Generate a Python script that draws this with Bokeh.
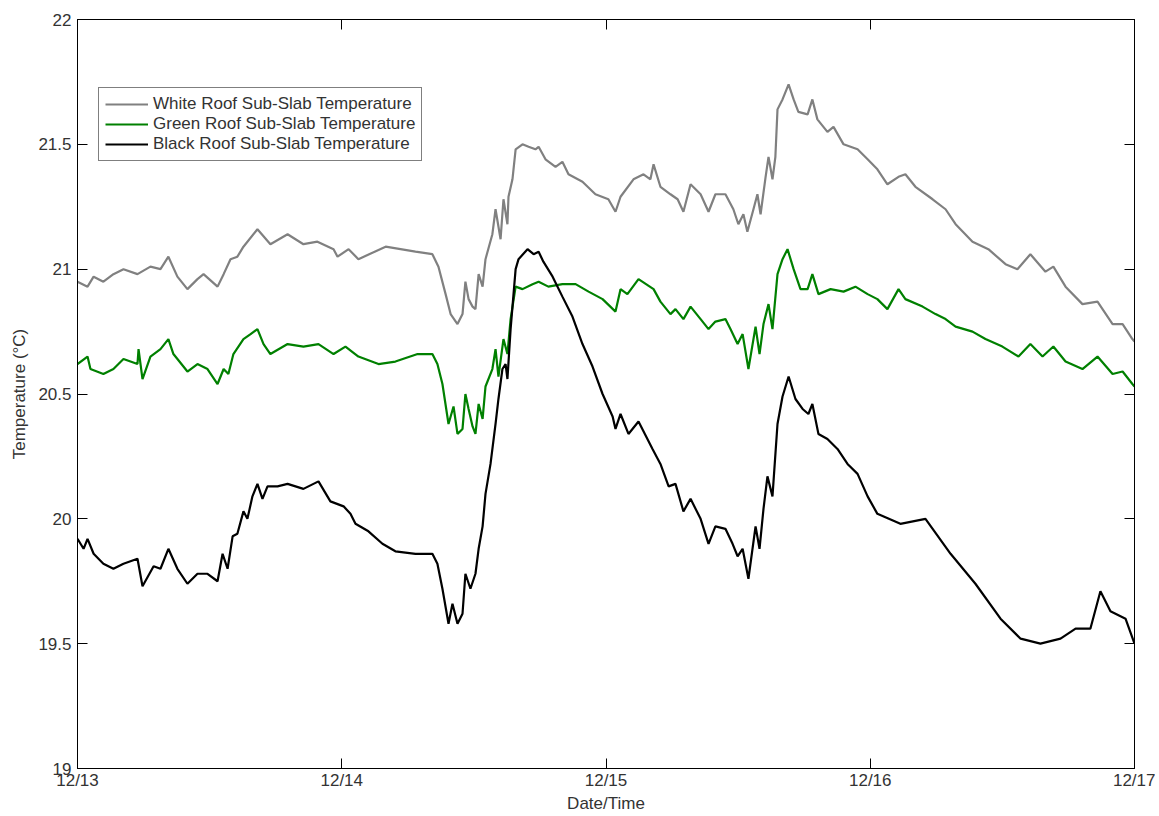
from bokeh.plotting import figure
from bokeh.models import (Range1d, LinearAxis, FixedTicker, CustomJSTickFormatter,
                          Legend, LegendItem, ColumnDataSource)
from bokeh.embed import file_html
from bokeh.resources import INLINE

# ---- data (days since 12/13 00:00, temperature in deg C) ----
white_day = [0.000, 0.038, 0.061, 0.098, 0.136, 0.174, 0.227, 0.276, 0.314, 0.344,
             0.378, 0.416, 0.454, 0.477, 0.530, 0.553, 0.579, 0.605, 0.628, 0.681,
             0.730, 0.795, 0.855, 0.908, 0.969, 0.984, 1.026, 1.063, 1.166, 1.279,
             1.343, 1.366, 1.393, 1.412, 1.438, 1.457, 1.468, 1.480, 1.495, 1.506,
             1.518, 1.533, 1.544, 1.570, 1.582, 1.601, 1.612, 1.627, 1.631, 1.646,
             1.658, 1.684, 1.707, 1.733, 1.745, 1.771, 1.809, 1.835, 1.858, 1.911,
             1.960, 2.009, 2.036, 2.055, 2.104, 2.142, 2.168, 2.180, 2.206, 2.244,
             2.271, 2.293, 2.320, 2.358, 2.388, 2.414, 2.452, 2.482, 2.501, 2.520,
             2.535, 2.558, 2.573, 2.585, 2.604, 2.615, 2.630, 2.641, 2.649, 2.668,
             2.691, 2.710, 2.728, 2.763, 2.781, 2.800, 2.838, 2.861, 2.899, 2.952,
             2.990, 3.027, 3.065, 3.107, 3.133, 3.171, 3.236, 3.285, 3.323, 3.387,
             3.447, 3.512, 3.557, 3.606, 3.663, 3.693, 3.739, 3.803, 3.860, 3.917,
             3.955, 3.992, 4.000]
white_temp = [20.95, 20.93, 20.97, 20.95, 20.98, 21.00, 20.98, 21.01, 21.00, 21.05,
              20.97, 20.92, 20.96, 20.98, 20.93, 20.98, 21.04, 21.05, 21.09, 21.16,
              21.10, 21.14, 21.10, 21.11, 21.08, 21.05, 21.08, 21.04, 21.09, 21.07,
              21.06, 21.01, 20.90, 20.82, 20.78, 20.82, 20.95, 20.88, 20.85, 20.84,
              20.98, 20.93, 21.04, 21.14, 21.24, 21.12, 21.28, 21.18, 21.29, 21.36,
              21.48, 21.50, 21.49, 21.48, 21.49, 21.44, 21.41, 21.43, 21.38, 21.35,
              21.30, 21.28, 21.23, 21.29, 21.36, 21.38, 21.36, 21.42, 21.33, 21.30,
              21.28, 21.23, 21.34, 21.30, 21.23, 21.30, 21.30, 21.24, 21.18, 21.22,
              21.15, 21.24, 21.30, 21.22, 21.37, 21.45, 21.36, 21.45, 21.64, 21.68,
              21.74, 21.68, 21.63, 21.62, 21.68, 21.60, 21.55, 21.57, 21.50, 21.48,
              21.44, 21.40, 21.34, 21.37, 21.38, 21.33, 21.28, 21.24, 21.18, 21.11,
              21.08, 21.02, 21.00, 21.06, 20.99, 21.01, 20.93, 20.86, 20.87, 20.78,
              20.78, 20.72, 20.71]

green_day = [0.000, 0.038, 0.049, 0.098, 0.136, 0.174, 0.227, 0.231, 0.246, 0.276,
             0.314, 0.344, 0.363, 0.416, 0.454, 0.492, 0.530, 0.553, 0.571, 0.590,
             0.628, 0.655, 0.681, 0.704, 0.730, 0.795, 0.855, 0.912, 0.969, 1.014,
             1.063, 1.139, 1.203, 1.287, 1.343, 1.362, 1.381, 1.404, 1.423, 1.438,
             1.457, 1.468, 1.480, 1.495, 1.506, 1.518, 1.533, 1.544, 1.570, 1.582,
             1.593, 1.612, 1.627, 1.639, 1.658, 1.684, 1.722, 1.745, 1.782, 1.835,
             1.885, 1.934, 1.987, 2.036, 2.055, 2.081, 2.123, 2.180, 2.206, 2.244,
             2.263, 2.293, 2.320, 2.358, 2.388, 2.414, 2.452, 2.471, 2.498, 2.517,
             2.539, 2.566, 2.581, 2.596, 2.615, 2.630, 2.649, 2.668, 2.687, 2.710,
             2.736, 2.763, 2.781, 2.804, 2.850, 2.899, 2.944, 2.990, 3.027, 3.065,
             3.107, 3.133, 3.198, 3.247, 3.285, 3.323, 3.387, 3.436, 3.500, 3.561,
             3.606, 3.652, 3.693, 3.739, 3.803, 3.860, 3.917, 3.955, 3.992, 4.000]
green_temp = [20.62, 20.65, 20.60, 20.58, 20.60, 20.64, 20.62, 20.68, 20.56, 20.65,
              20.68, 20.72, 20.66, 20.59, 20.62, 20.60, 20.54, 20.60, 20.58, 20.66,
              20.72, 20.74, 20.76, 20.70, 20.66, 20.70, 20.69, 20.70, 20.66, 20.69,
              20.65, 20.62, 20.63, 20.66, 20.66, 20.62, 20.54, 20.38, 20.45, 20.34,
              20.36, 20.50, 20.44, 20.37, 20.34, 20.46, 20.40, 20.53, 20.60, 20.68,
              20.57, 20.72, 20.66, 20.80, 20.93, 20.92, 20.94, 20.95, 20.93, 20.94,
              20.94, 20.91, 20.88, 20.83, 20.92, 20.90, 20.96, 20.92, 20.87, 20.82,
              20.84, 20.80, 20.85, 20.80, 20.76, 20.79, 20.80, 20.76, 20.70, 20.74,
              20.60, 20.77, 20.66, 20.78, 20.86, 20.76, 20.98, 21.04, 21.08, 21.00,
              20.92, 20.92, 20.98, 20.90, 20.92, 20.91, 20.93, 20.90, 20.88, 20.84,
              20.92, 20.88, 20.85, 20.82, 20.80, 20.77, 20.75, 20.72, 20.69, 20.65,
              20.70, 20.65, 20.69, 20.63, 20.60, 20.65, 20.58, 20.59, 20.54, 20.53]

black_day = [0.000, 0.023, 0.038, 0.061, 0.098, 0.136, 0.174, 0.227, 0.246, 0.288,
             0.314, 0.344, 0.378, 0.416, 0.454, 0.492, 0.530, 0.549, 0.568, 0.587,
             0.605, 0.628, 0.643, 0.662, 0.681, 0.700, 0.719, 0.757, 0.795, 0.855,
             0.912, 0.957, 1.007, 1.033, 1.052, 1.101, 1.154, 1.203, 1.279, 1.343,
             1.362, 1.381, 1.404, 1.419, 1.438, 1.457, 1.468, 1.487, 1.506, 1.518,
             1.533, 1.544, 1.563, 1.582, 1.593, 1.608, 1.620, 1.627, 1.639, 1.658,
             1.669, 1.703, 1.726, 1.745, 1.763, 1.798, 1.835, 1.873, 1.911, 1.949,
             1.987, 2.025, 2.036, 2.055, 2.085, 2.123, 2.176, 2.206, 2.237, 2.263,
             2.293, 2.320, 2.358, 2.388, 2.414, 2.452, 2.479, 2.498, 2.517, 2.539,
             2.566, 2.581, 2.596, 2.611, 2.630, 2.649, 2.668, 2.691, 2.717, 2.744,
             2.766, 2.781, 2.804, 2.838, 2.876, 2.914, 2.952, 2.990, 3.027, 3.114,
             3.209, 3.304, 3.398, 3.493, 3.569, 3.644, 3.720, 3.777, 3.833, 3.871,
             3.909, 3.966, 4.000]
black_temp = [19.92, 19.88, 19.92, 19.86, 19.82, 19.80, 19.82, 19.84, 19.73, 19.81,
              19.80, 19.88, 19.80, 19.74, 19.78, 19.78, 19.75, 19.86, 19.80, 19.93,
              19.94, 20.03, 20.00, 20.09, 20.14, 20.08, 20.13, 20.13, 20.14, 20.12,
              20.15, 20.07, 20.05, 20.02, 19.98, 19.95, 19.90, 19.87, 19.86, 19.86,
              19.82, 19.72, 19.58, 19.66, 19.58, 19.62, 19.78, 19.72, 19.78, 19.88,
              19.97, 20.10, 20.22, 20.38, 20.48, 20.60, 20.62, 20.56, 20.76, 21.00,
              21.04, 21.08, 21.06, 21.07, 21.03, 20.97, 20.89, 20.81, 20.70, 20.61,
              20.50, 20.41, 20.36, 20.42, 20.34, 20.39, 20.28, 20.22, 20.13, 20.14,
              20.03, 20.08, 20.00, 19.90, 19.97, 19.96, 19.90, 19.85, 19.88, 19.76,
              19.97, 19.88, 20.04, 20.17, 20.09, 20.38, 20.49, 20.57, 20.48, 20.44,
              20.42, 20.46, 20.34, 20.32, 20.28, 20.22, 20.18, 20.09, 20.02, 19.98,
              20.00, 19.86, 19.74, 19.60, 19.52, 19.50, 19.52, 19.56, 19.56, 19.71,
              19.63, 19.60, 19.50]

x_ticks = [0, 1, 2, 3, 4]
x_tick_labels = ["12/13", "12/14", "12/15", "12/16", "12/17"]
y_ticks = [19, 19.5, 20, 20.5, 21, 21.5, 22]
series_names = ["White Roof Sub-Slab Temperature",
                "Green Roof Sub-Slab Temperature",
                "Black Roof Sub-Slab Temperature"]
series_colors = ["#808080", "#008000", "#000000"]

FONT = "Liberation Sans"
TXT = "#333333"

p = figure(width=1155, height=815, x_range=Range1d(0, 4), y_range=Range1d(19, 22),
           output_backend="svg", toolbar_location=None,
           x_axis_location=None, y_axis_location=None,
           min_border_left=77, min_border_top=19, min_border_right=21,
           min_border_bottom=10)
p.grid.visible = False
p.outline_line_color = "#000000"
p.background_fill_color = "white"
p.border_fill_color = "white"

label_js = "var L = %s; var T = %s; var i = T.indexOf(tick); return i >= 0 ? L[i] : '';" % (
    str(x_tick_labels).replace("'", '"'), str(x_ticks))


def style_axis(ax, ticks, show):
    ax.ticker = FixedTicker(ticks=ticks)
    ax.major_tick_in = 10
    ax.major_tick_out = 0
    ax.minor_tick_line_color = None
    ax.axis_line_color = "#000000"
    ax.major_tick_line_color = "#000000"
    ax.major_label_text_font = FONT
    ax.major_label_text_font_size = "17px"
    ax.major_label_text_color = TXT
    ax.axis_label_text_font = FONT
    ax.axis_label_text_font_size = "17px"
    ax.axis_label_text_font_style = "normal"
    ax.axis_label_text_color = TXT
    if not show:
        ax.formatter = CustomJSTickFormatter(code="return '';")
        ax.major_label_standoff = 0


xb = LinearAxis(axis_label="Date/Time")
style_axis(xb, x_ticks, True)
xb.formatter = CustomJSTickFormatter(code=label_js)
xb.major_label_standoff = 2
xb.axis_label_standoff = 1
p.add_layout(xb, "below")

yl = LinearAxis(axis_label="Temperature (°C)")
style_axis(yl, y_ticks, True)
yl.formatter = CustomJSTickFormatter(code="return String(tick);")
yl.major_label_standoff = 6
yl.axis_label_standoff = 6
p.add_layout(yl, "left")

xt = LinearAxis()
style_axis(xt, x_ticks, False)
p.add_layout(xt, "above")

yr = LinearAxis()
style_axis(yr, y_ticks, False)
p.add_layout(yr, "right")

renderers = []
for d, t, c in [(white_day, white_temp, series_colors[0]),
                (green_day, green_temp, series_colors[1]),
                (black_day, black_temp, series_colors[2])]:
    src = ColumnDataSource(dict(x=d, y=t))
    r = p.line("x", "y", source=src, line_color=c, line_width=2.2)
    renderers.append(r)

legend = Legend(items=[LegendItem(label=n, renderers=[r]) for n, r in zip(series_names, renderers)],
                location=(21, 607))
legend.border_line_color = "#000000"
legend.border_line_width = 1
legend.background_fill_color = "white"
legend.background_fill_alpha = 1.0
legend.label_text_font = FONT
legend.label_text_font_size = "17px"
legend.label_text_color = TXT
legend.glyph_width = 43
legend.glyph_height = 20
legend.label_height = 20
legend.label_standoff = 5
legend.spacing = 0
legend.padding = 6
legend.margin = 0
p.add_layout(legend)

open("out.html", "w").write(file_html(p, INLINE))
